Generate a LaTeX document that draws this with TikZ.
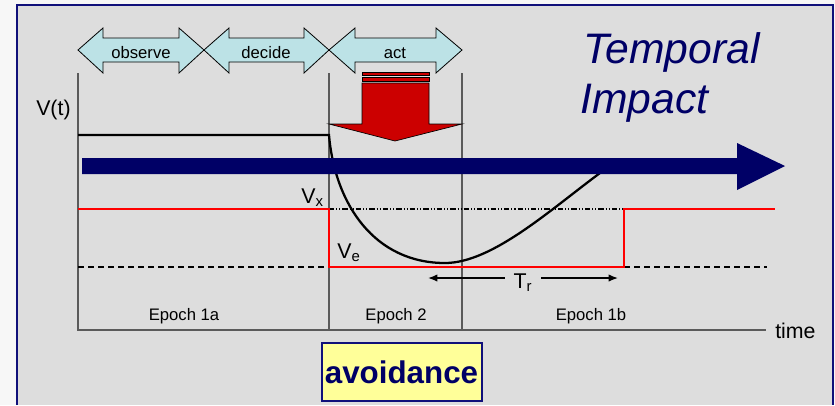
\documentclass[tikz,border=0pt]{standalone}
\usepackage{fontspec}
\setmainfont{Liberation Sans}
\usetikzlibrary{arrows.meta,positioning}

\definecolor{framegray}{HTML}{DDDDDD}
\definecolor{framenavy}{HTML}{10107A}
\definecolor{titlenavy}{HTML}{000066}
\definecolor{axisgray}{HTML}{5A5A5A}
\definecolor{phasecyan}{HTML}{BCE2E6}
\definecolor{actred}{HTML}{CC0000}
\definecolor{stepred}{HTML}{FF0000}
\definecolor{boxyellow}{HTML}{FFFF99}

\begin{document}
\begin{tikzpicture}[x=0.75pt, y=-0.75pt, >={Latex[length=7pt, width=5.5pt]},
    every node/.style={inner sep=0pt, font=\fontsize{12.5}{15}\selectfont},
    axisline/.style={draw=axisgray, line width=1pt},
    phasearrow/.style={draw=black, line width=0.6pt, fill=phasecyan},
    stepline/.style={draw=stepred, line width=1.8pt},
    valueline/.style={draw=black, line width=1.7pt},
    biglabel/.style={font=\fontsize{16}{19}\selectfont}]
    % --- 1. background and frame ---
    \useasboundingbox (0,0) rectangle (835,405);
    \fill[white!97!black] (0,0) rectangle (835,405);
    \fill[framegray] (17,5) rectangle (833,405);
    \draw[framenavy, line width=1.6pt] (17,405) -- (17,5) -- (833,5) -- (833,405);

    % --- 2. coordinates ---
    \coordinate (O)     at (78,330);  % origin
    \coordinate (Ytop)  at (78,73);   % top of V axis
    \coordinate (Tend)  at (766,330); % end of time axis
    \coordinate (E1)    at (329,330); % end of epoch 1a
    \coordinate (E1top) at (329,73);
    \coordinate (E2)    at (462,330); % end of epoch 2
    \coordinate (E2top) at (462,73);

    % V(t) curve
    \coordinate (V0)   at (78,135);
    \coordinate (V1)   at (329,135);
    \coordinate (Vmin) at (445,263);
    \coordinate (Vend) at (600,173);

    % levels V_x and V_e
    \coordinate (X0) at (78,209);
    \coordinate (X1) at (329,209);
    \coordinate (X2) at (624,209);
    \coordinate (X3) at (775,209);
    \coordinate (Ea) at (78,267);
    \coordinate (Eb) at (329,267);
    \coordinate (Ec) at (624,267);
    \coordinate (Ed) at (767,267);

    % ends of the T_r arrows
    \coordinate (TrL) at (428,278);
    \coordinate (TrR) at (618,278);

    % --- 3. axes and epoch lines ---
    \draw[axisline] (Ytop) -- (O) -- (Tend);
    \draw[axisline] (E1top) -- (E1);
    \draw[axisline] (E2top) -- (E2);

    % --- 4. observe / decide / act ---
    \draw[phasearrow] (78,50) -- (103,28) -- (103,38) -- (179,38) -- (179,28) -- (204,50)
        -- (179,73) -- (179,62) -- (103,62) -- (103,73) -- cycle;
    \draw[phasearrow] (204,50) -- (229,28) -- (229,38) -- (304,38) -- (304,28) -- (329,50)
        -- (304,73) -- (304,62) -- (229,62) -- (229,73) -- cycle;
    \draw[phasearrow] (329,50) -- (355,28) -- (355,38) -- (436,38) -- (436,28) -- (462,50)
        -- (436,73) -- (436,62) -- (355,62) -- (355,73) -- cycle;
    \node[anchor=base] (observe) at (141,58) {observe};
    \node[anchor=base] (decide)  at (266,58) {decide};
    \node[anchor=base] (act)     at (395,58) {act};

    % red arrow of the action
    \draw[fill=actred, line width=0.5pt] (362,72.5) rectangle (429,75);
    \draw[fill=actred, line width=0.5pt] (362,77.5) rectangle (429,81.5);
    \draw[fill=actred, line width=0.5pt] (362,83) -- (429,83) -- (429,124) -- (462,124)
        -- (395,141) -- (329,124) -- (362,124) -- cycle;

    % --- 5. levels ---
    \draw[line width=0.8pt, dash pattern=on 4pt off 1.5pt on 0.8pt off 1.5pt on 0.8pt off 1.5pt] (X1) -- (X2);
    \draw[line width=1.1pt, dash pattern=on 4.5pt off 3pt] (Ea) -- (Eb);
    \draw[line width=1.1pt, dash pattern=on 4.5pt off 3pt] (Ec) -- (Ed);
    \draw[stepline] (X0) -- (X1) -- (Eb) -- (Ec) -- (X2) -- (X3);

    % value curve
    \draw[valueline] (V0) -- (V1) .. controls (335,205) and (375,263) .. (Vmin)
        .. controls (492,263) and (550,210) .. (Vend);

    % time arrow
    \fill[titlenavy] (82,158) -- (737,158) -- (737,143) -- (785,166) -- (737,190)
        -- (737,174) -- (82,174) -- cycle;

    % --- 6. labels ---
    \node[biglabel, anchor=base west] (vt)   at (36,115)  {V(t)};
    \node[biglabel, anchor=base west] (time) at (775,338) {time};
    \node[biglabel, anchor=base east] (vx)   at (324,203) {V\textsubscript{x}};
    \node[biglabel, anchor=base west] (ve)   at (337,258) {V\textsubscript{e}};
    \node[biglabel, anchor=base, inner xsep=6.5pt] (tr) at (523,288) {T\textsubscript{r}};
    \draw[->, line width=1pt] (tr.west |- TrL) -- (TrL);
    \draw[->, line width=1pt] (tr.east |- TrR) -- (TrR);

    \node[anchor=base] (ep1a) at (184,320) {Epoch 1a};
    \node[anchor=base] (ep2)  at (396,320) {Epoch 2};
    \node[anchor=base] (ep1b) at (591,320) {Epoch 1b};

    \node[anchor=base west, text=titlenavy, font=\fontsize{32}{38}\itshape] (temporal) at (583,63) {Temporal};
    \node[anchor=base west, text=titlenavy, font=\fontsize{32}{38}\itshape] (impact) at (580,113) {Impact};

    \node[draw=framenavy, line width=1.5pt, fill=boxyellow, minimum width=120pt, minimum height=44pt,
        text=titlenavy, font=\fontsize{23.5}{27}\selectfont\bfseries] (avoid) at (401.5,372) {avoidance};

  \end{tikzpicture}
\end{document}
